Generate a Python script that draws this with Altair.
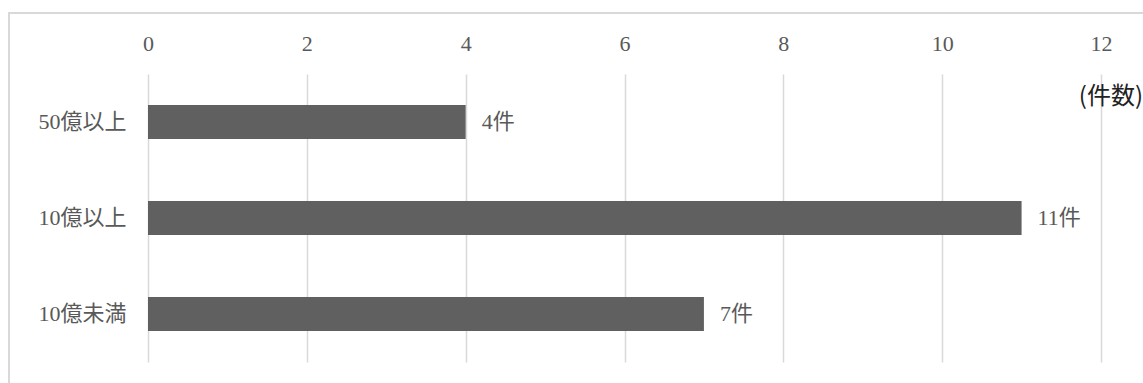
import altair as alt
import pandas as pd

categories = ["50億以上", "10億以上", "10億未満"]
counts = [4, 11, 7]
labels = ["4件", "11件", "7件"]
x_ticks = [0, 2, 4, 6, 8, 10, 12]

df = pd.DataFrame({"cat": categories, "n": counts, "lab": labels})

FONT = "Liberation Serif, Noto Sans CJK JP"
GRAY = "#595959"

y_enc = alt.Y(
    "cat:N",
    sort=categories,
    scale=alt.Scale(paddingInner=0.645, paddingOuter=0.3225),
    axis=alt.Axis(
        title=None, domain=False, ticks=False, labelPadding=22,
        labelFont=FONT, labelFontSize=22, labelColor=GRAY,
    ),
)
x_enc = alt.X(
    "n:Q",
    scale=alt.Scale(domain=[0, 12], nice=False),
    axis=alt.Axis(
        orient="top", title=None, values=x_ticks, format="d", domain=False, ticks=False,
        labelFlush=False,
        labelPadding=19, labelFont=FONT, labelFontSize=22, labelColor=GRAY,
        grid=True, gridColor="#d9d9d9", gridWidth=1.5,
    ),
)

bars = alt.Chart(df).mark_bar(color="#606060").encode(x=x_enc, y=y_enc)

text = alt.Chart(df).mark_text(
    align="left", baseline="middle", dx=16, font=FONT, fontSize=22, color=GRAY
).encode(x="n:Q", y=alt.Y("cat:N", sort=categories), text="lab:N")

frame = alt.Chart(df).mark_rect(
    fill=None, stroke="#d9d9d9", strokeWidth=2
).encode(
    x=alt.value(-139), x2=alt.value(1010), y=alt.value(-61), y2=alt.value(330)
)

unit = alt.Chart(pd.DataFrame({"t": ["(件数)"]})).mark_text(
    align="right", baseline="middle", font="Noto Sans CJK JP", fontSize=24, color="#222222"
).encode(x=alt.value(995), y=alt.value(23), text="t:N")

chart = alt.layer(frame, bars, text, unit).properties(
    width=953, height=288,
    background="white",
    autosize=alt.AutoSizeParams(type="none"),
    padding={"left": 148, "top": 74, "right": 42, "bottom": 21},
).configure_view(stroke=None, strokeWidth=0)

chart.save("out.html", embed_options={"renderer": "svg", "actions": False})
